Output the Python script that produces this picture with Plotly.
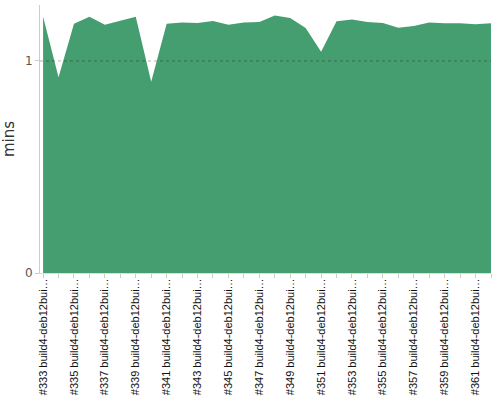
import plotly.graph_objects as go

builds = [f"#{n} build4-deb12bui…" for n in range(333, 363)]
mins = [1.209, 0.923, 1.175, 1.209, 1.171, 1.190, 1.209, 0.902, 1.176, 1.182,
        1.179, 1.189, 1.171, 1.182, 1.184, 1.214, 1.203, 1.156, 1.044, 1.187,
        1.196, 1.184, 1.179, 1.157, 1.165, 1.182, 1.178, 1.178, 1.173, 1.178]
tick_labels = [b if i % 2 == 0 else "" for i, b in enumerate(builds)]

fig = go.Figure(go.Scatter(
    x=list(range(len(builds))), y=mins, mode="lines", fill="tozeroy",
    line=dict(color="#459e6f", width=0), fillcolor="#459e6f",
    hovertext=builds, hoverinfo="text+y"))

# dotted reference line at 1 min drawn over the area, like the original grid
fig.add_hline(y=1, line=dict(color="rgba(0,0,0,0.3)", width=1, dash="dot"), layer="above")

fig.update_layout(
    width=500, height=400, plot_bgcolor="white", paper_bgcolor="white",
    margin=dict(l=40, r=9, t=5, b=127), showlegend=False,
    font=dict(family="DejaVu Sans", color="#333"),
)
fig.update_xaxes(
    range=[-0.2, 29], tickmode="array", tickvals=list(range(len(builds))),
    ticktext=tick_labels, tickangle=-90,
    tickfont=dict(family="Liberation Sans", size=11, color="#111"),
    ticks="outside", ticklen=4, tickcolor="#ccc", showgrid=False,
    showline=True, linecolor="#ddd", zeroline=False, automargin=False,
    ticklabelstandoff=-4)
fig.update_yaxes(
    range=[0, 1.264], tickvals=[0, 1], tickfont=dict(size=12, color="#555"),
    ticks="outside", ticklen=4, tickcolor="#ccc", showline=True, linecolor="#ccc",
    showgrid=False, zeroline=False, automargin=False,
    title=dict(text="mins", font=dict(size=15, color="#333"), standoff=14))

fig.write_html("out.html", config={"displayModeBar": False},
               post_script="document.body.style.margin='0';")
